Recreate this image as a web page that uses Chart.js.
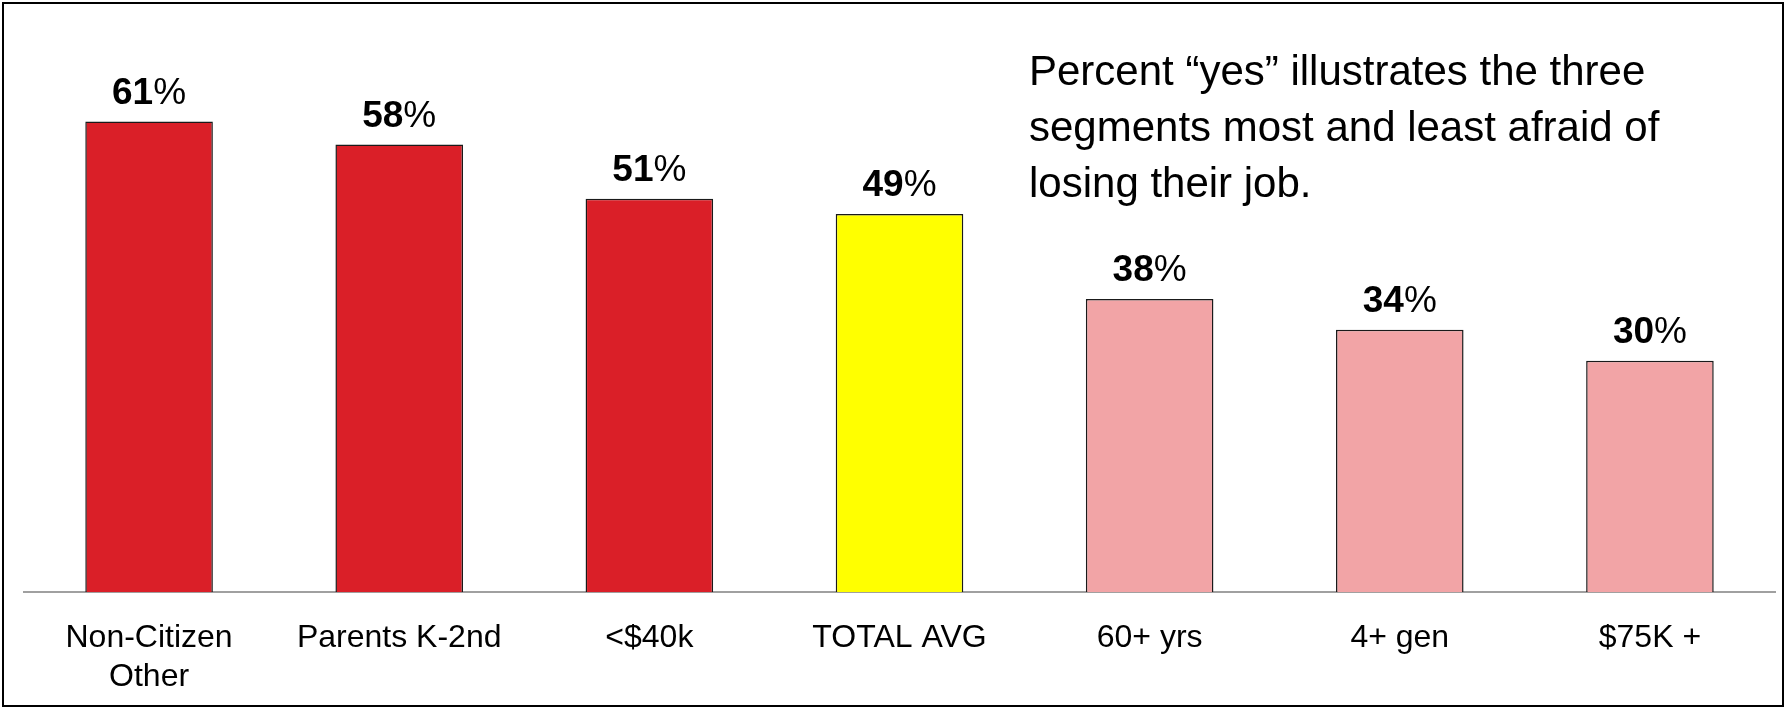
<!DOCTYPE html>
<html>
<head>
<meta charset="utf-8">
<script src="https://cdn.jsdelivr.net/npm/chart.js@4/dist/chart.umd.min.js"></script>
<style>
  html, body { margin: 0; padding: 0; background: #fff; }
  #wrap { position: relative; width: 1787px; height: 709px; }
  #frame { position: absolute; left: 2px; top: 2px; width: 1778px; height: 701px; border: 2px solid #000; pointer-events: none; }
</style>
</head>
<body>
<div id="wrap">
  <canvas id="myChart" width="1787" height="709"></canvas>
  <div id="frame"></div>
</div>
<script>
var categories = [['Non-Citizen', 'Other'], 'Parents K-2nd', '<$40k', 'TOTAL AVG', '60+ yrs', '4+ gen', '$75K +'];
var values = [61, 58, 51, 49, 38, 34, 30];
var groups = ['most', 'most', 'most', 'avg', 'least', 'least', 'least'];
var note = ['Percent \u201cyes\u201d illustrates the three', 'segments most and least afraid of', 'losing their job.'];

var groupColors = { most: '#DA1F28', avg: '#FFFF00', least: '#F2A4A6' };
var FONT = "'Liberation Sans', Arial, sans-serif";

var labelPlugin = {
    id: 'labels',
    afterDatasetsDraw: function(chart) {
        var ctx = chart.ctx;
        var meta = chart.getDatasetMeta(0);
        ctx.save();
        ctx.fillStyle = '#000';
        ctx.textBaseline = 'middle';
        ctx.textAlign = 'left';
        meta.data.forEach(function(bar, i) {
            var num = String(values[i]);
            ctx.font = 'bold 37px ' + FONT;
            var w1 = ctx.measureText(num).width;
            ctx.font = '37px ' + FONT;
            var w2 = ctx.measureText('%').width;
            var x0 = bar.x - (w1 + w2) / 2;
            var y = bar.y - 28;
            ctx.font = 'bold 37px ' + FONT;
            ctx.fillText(num, x0, y);
            ctx.font = '37px ' + FONT;
            ctx.fillText('%', x0 + w1, y);
        });

        // note in the upper right
        ctx.font = '42px ' + FONT;
        for (var j = 0; j < note.length; j++) {
            ctx.fillText(note[j], 1029, 73 + j * 56);
        }
        ctx.restore();
    }
};

var ctx = document.getElementById('myChart').getContext('2d');
var chart = new Chart(ctx, {
    type: 'bar',
    data: {
        labels: categories,
        datasets: [{
            data: values,
            backgroundColor: groups.map(function(g) { return groupColors[g]; }),
            borderColor: '#1a1a1a',
            borderWidth: 1.5,
            borderSkipped: 'bottom',
            categoryPercentage: 1.0,
            barPercentage: 0.51
        }]
    },
    options: {
        responsive: false,
        animation: false,
        devicePixelRatio: 1,
        layout: { padding: { left: 24, right: 12, top: 52, bottom: -14 } },
        plugins: {
            legend: { display: false },
            tooltip: { enabled: false }
        },
        scales: {
            x: {
                grid: { display: false, drawTicks: false },
                border: { display: true, color: '#A0A0A0', width: 2 },
                ticks: {
                    color: '#000',
                    padding: 27,
                    maxRotation: 0,
                    autoSkip: false,
                    font: { family: FONT, size: 32, lineHeight: 1.2 }
                }
            },
            y: {
                display: false,
                min: 0,
                max: 70
            }
        }
    },
    plugins: [labelPlugin]
});
</script>
</body>
</html>
